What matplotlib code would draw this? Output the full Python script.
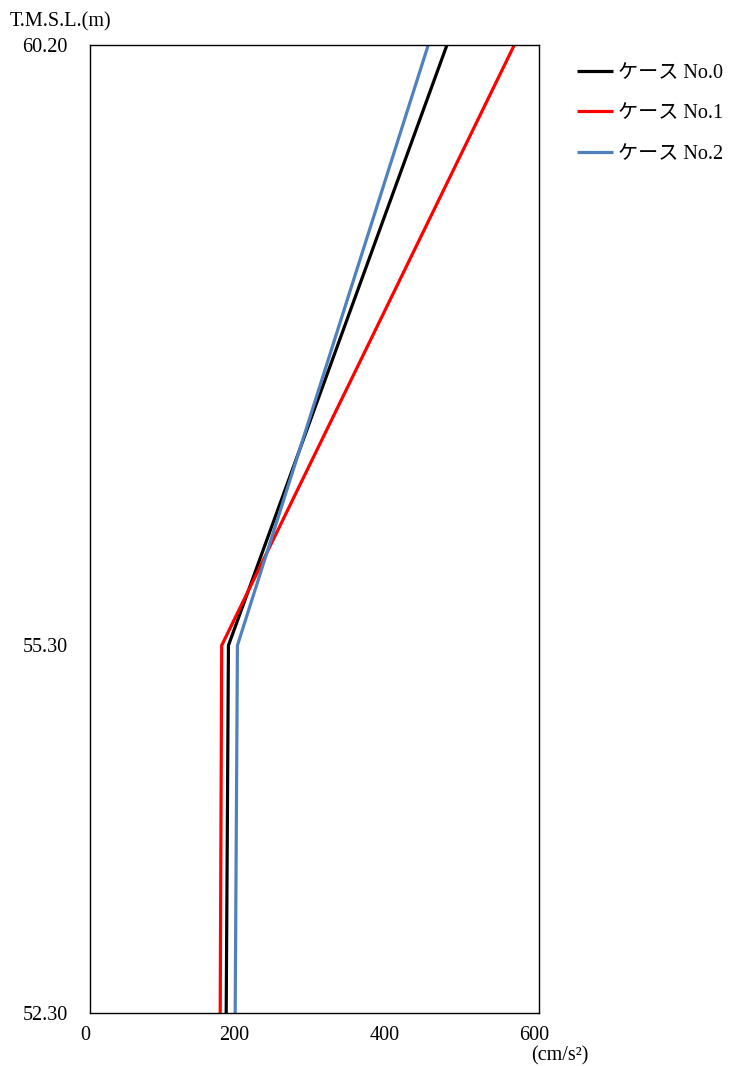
import matplotlib
matplotlib.use("Agg")
import matplotlib.pyplot as plt
import matplotlib.transforms as mtransforms

plt.rcParams['font.family'] = ['Liberation Serif', 'Noto Sans CJK JP', 'DejaVu Sans']

# elevation (T.M.S.L., m) and max acceleration (cm/s2) per case
depth = [52.30, 55.30, 60.20]
case0 = [182, 185, 477]
case1 = [174, 176, 567]
case2 = [194, 197, 452]
labels = ["ケース No.0", "ケース No.1", "ケース No.2"]
colors = ["#000000", "#ff0000", "#4f81bd"]
yticks = [52.30, 55.30, 60.20]
xticks = [0, 200, 400, 600]

fig = plt.figure(figsize=(7.47, 10.66), dpi=100)
ax = fig.add_axes([90 / 747, 53 / 1066, 449 / 747, 968 / 1066])

for vals, lab, c in zip([case0, case1, case2], labels, colors):
    ax.plot(vals, depth, color=c, linewidth=2.3, label=lab, solid_capstyle="butt")

ax.set_xlim(0, 600)
ax.set_ylim(52.30, 60.20)
ax.set_xticks(xticks)
ax.set_xticklabels([str(x) for x in xticks])
ax.set_yticks(yticks)
ax.set_yticklabels([f"{y:.2f}" for y in yticks])
ax.tick_params(length=0, labelsize=14.5)
ax.tick_params(axis="y", pad=16)
ax.tick_params(axis="x", pad=9)
shift = mtransforms.ScaledTranslation(-5 / 100, 0, fig.dpi_scale_trans)
for t in ax.get_xticklabels():
    t.set_transform(t.get_transform() + shift)
for sp in ax.spines.values():
    sp.set_linewidth(1.0)
    sp.set_color("black")

fig.text(10 / 747, 1 - 22 / 1066, "T.M.S.L.(m)", fontsize=14.5, va="center", ha="left")
fig.text(560 / 747, 1 - 1056 / 1066, "(cm/s²)", fontsize=14.5, va="center", ha="center")

ax.legend(loc="upper left", bbox_to_anchor=(1.045, 0.999), frameon=False,
          fontsize=14.5, handlelength=1.75, handletextpad=0.25, labelspacing=1.05)

fig.savefig("out.png", dpi=100)
